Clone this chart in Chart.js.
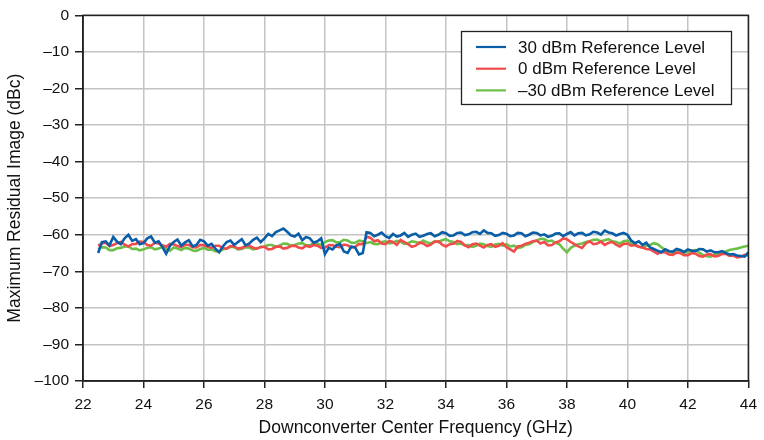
<!DOCTYPE html>
<html>
<head>
<meta charset="utf-8">
<script src="https://cdn.jsdelivr.net/npm/chart.js@4"></script>
<style>
html,body{margin:0;padding:0;background:#fff;}
</style>
</head>
<body>
<canvas id="chart" width="764" height="440"></canvas>
<script>
/* ====== data ====== */

// center frequency, GHz (one row per GHz)
const freqGHz = [
22.5,22.625,22.75,22.875,23,23.125,23.25,23.375,
23.5,23.625,23.75,23.875,24,24.125,24.25,24.375,
24.5,24.625,24.75,24.875,25,25.125,25.25,25.375,
25.5,25.625,25.75,25.875,26,26.125,26.25,26.375,
26.5,26.625,26.75,26.875,27,27.125,27.25,27.375,
27.5,27.625,27.75,27.875,28,28.125,28.25,28.375,
28.5,28.625,28.75,28.875,29,29.125,29.25,29.375,
29.5,29.625,29.75,29.875,30,30.125,30.25,30.375,
30.5,30.625,30.75,30.875,31,31.125,31.25,31.375,
31.5,31.625,31.75,31.875,32,32.125,32.25,32.375,
32.5,32.625,32.75,32.875,33,33.125,33.25,33.375,
33.5,33.625,33.75,33.875,34,34.125,34.25,34.375,
34.5,34.625,34.75,34.875,35,35.125,35.25,35.375,
35.5,35.625,35.75,35.875,36,36.125,36.25,36.375,
36.5,36.625,36.75,36.875,37,37.125,37.25,37.375,
37.5,37.625,37.75,37.875,38,38.125,38.25,38.375,
38.5,38.625,38.75,38.875,39,39.125,39.25,39.375,
39.5,39.625,39.75,39.875,40,40.125,40.25,40.375,
40.5,40.625,40.75,40.875,41,41.125,41.25,41.375,
41.5,41.625,41.75,41.875,42,42.125,42.25,42.375,
42.5,42.625,42.75,42.875,43,43.125,43.25,43.375,
43.5,43.625,43.75,43.875,44
];

// 30 dBm reference level
const ref30dBm = [
-65.0,-62.0,-61.8,-62.9,-60.6,-61.9,-62.6,-61.0,
-60.0,-61.7,-61.2,-62.6,-62.3,-61.0,-60.5,-62.2,
-61.8,-63.4,-65.2,-63.0,-62.0,-61.3,-63.0,-62.1,
-61.5,-63.2,-62.8,-61.4,-61.8,-63.0,-62.5,-63.8,
-64.8,-63.2,-62.0,-61.6,-62.8,-62.0,-61.2,-62.9,
-62.4,-61.4,-60.8,-62.0,-61.0,-59.8,-60.4,-59.3,
-58.8,-58.3,-59.2,-60.2,-60.5,-59.7,-61.5,-60.6,
-61.0,-62.2,-61.8,-61.0,-65.3,-63.6,-64.0,-62.9,
-62.5,-64.6,-65.0,-63.2,-63.5,-65.4,-65.0,-59.3,
-59.5,-60.4,-60.0,-59.4,-60.4,-60.9,-59.8,-60.5,
-60.2,-59.5,-60.6,-60.0,-59.7,-60.6,-60.3,-59.8,
-59.6,-60.4,-60.0,-59.3,-59.6,-60.3,-60.2,-59.5,
-59.4,-60.1,-59.9,-59.3,-59.2,-59.8,-58.8,-59.5,
-59.6,-60.3,-60.1,-59.5,-59.7,-60.4,-60.2,-59.5,
-59.6,-60.4,-60.0,-59.4,-59.5,-60.2,-59.9,-60.6,
-60.3,-59.7,-59.6,-60.4,-59.8,-59.3,-60.2,-59.6,
-59.5,-60.2,-59.9,-59.2,-59.4,-60.0,-58.9,-59.4,
-59.6,-60.2,-59.8,-59.5,-60.0,-61.6,-62.3,-61.8,
-62.8,-62.2,-63.5,-63.9,-64.4,-64.8,-64.0,-64.5,
-64.6,-63.9,-64.2,-64.7,-64.0,-64.4,-64.5,-63.9,
-64.0,-64.6,-64.3,-64.8,-64.8,-64.5,-65.0,-65.4,
-65.3,-65.7,-65.8,-66.0,-64.8
];

// 0 dBm reference level
const ref0dBm = [
-63.0,-62.4,-62.2,-63.1,-62.8,-62.3,-62.0,-62.7,
-63.2,-62.6,-62.5,-61.9,-62.0,-62.8,-63.0,-62.2,
-62.4,-62.9,-63.3,-62.5,-62.6,-63.1,-63.4,-62.7,
-62.8,-63.4,-63.5,-62.8,-62.9,-63.3,-63.6,-63.0,
-63.0,-63.7,-63.8,-63.1,-63.2,-63.8,-63.6,-63.1,
-63.0,-63.6,-63.8,-63.4,-63.3,-64.0,-63.9,-63.3,
-63.2,-63.8,-63.6,-63.1,-63.0,-63.5,-63.7,-63.0,
-63.3,-62.8,-63.0,-63.6,-63.5,-62.9,-62.8,-63.3,
-63.4,-62.7,-62.9,-63.5,-63.3,-62.5,-62.6,-60.6,
-60.8,-61.8,-61.5,-62.4,-62.6,-61.7,-62.0,-62.8,
-61.4,-62.0,-62.6,-63.3,-63.0,-62.1,-62.4,-63.1,
-62.7,-61.9,-61.8,-62.7,-63.2,-62.6,-62.5,-61.7,
-62.0,-62.9,-63.4,-62.6,-62.4,-63.0,-63.5,-62.8,
-62.6,-63.3,-63.0,-62.3,-63.4,-64.0,-64.6,-63.2,
-63.0,-62.5,-62.2,-61.8,-61.6,-62.4,-62.0,-62.9,
-62.8,-62.1,-61.8,-61.0,-61.2,-62.0,-62.6,-63.2,
-63.6,-62.4,-61.8,-62.6,-62.4,-61.9,-62.8,-62.2,
-62.0,-62.7,-63.2,-62.5,-62.4,-63.0,-62.8,-63.3,
-63.5,-63.9,-64.0,-64.6,-65.2,-64.7,-64.8,-65.4,
-65.5,-64.9,-65.0,-65.6,-65.6,-65.0,-65.2,-65.8,
-66.0,-65.4,-65.3,-65.9,-65.8,-65.3,-65.2,-65.8,
-65.7,-66.2,-66.0,-65.5,-65.6
];

// -30 dBm reference level
const refMinus30dBm = [
-64.0,-63.4,-63.5,-64.2,-64.2,-63.7,-63.6,-63.2,
-63.2,-63.9,-63.8,-64.3,-64.0,-63.6,-63.4,-64.0,
-63.8,-63.3,-64.0,-64.4,-63.5,-63.8,-64.2,-63.6,
-63.8,-64.3,-64.4,-63.9,-63.6,-64.1,-64.0,-64.5,
-64.6,-64.0,-63.8,-63.3,-63.4,-64.0,-63.9,-63.4,
-63.5,-64.0,-63.8,-63.3,-63.2,-62.8,-62.8,-63.3,
-63.0,-62.4,-62.5,-63.0,-62.8,-62.4,-62.3,-62.9,
-62.9,-62.3,-62.5,-62.8,-62.0,-61.6,-61.5,-62.1,
-62.0,-61.4,-61.6,-62.2,-62.2,-61.6,-61.8,-62.3,
-62.0,-62.5,-62.6,-62.0,-61.8,-62.4,-62.2,-61.7,
-61.9,-62.5,-62.3,-61.8,-62.0,-62.4,-61.6,-62.1,
-62.4,-61.8,-62.0,-61.5,-61.2,-61.8,-62.0,-62.6,
-62.4,-62.9,-62.8,-63.3,-63.0,-62.4,-62.6,-63.1,
-63.3,-62.7,-62.5,-63.0,-62.6,-63.2,-63.0,-63.6,
-63.4,-62.8,-62.6,-62.0,-61.6,-61.1,-61.2,-61.8,
-61.6,-62.2,-62.6,-63.8,-64.8,-63.6,-63.0,-62.6,
-62.4,-62.0,-61.8,-61.4,-61.3,-61.8,-61.5,-61.2,
-61.8,-62.0,-62.4,-61.8,-61.6,-62.2,-62.8,-63.2,
-63.5,-63.0,-62.8,-62.3,-62.6,-63.4,-64.2,-64.6,
-65.0,-64.5,-64.4,-64.9,-64.8,-64.3,-64.2,-64.9,
-65.6,-65.9,-66.0,-65.4,-65.2,-64.8,-64.6,-64.2,
-64.0,-63.8,-63.5,-63.2,-63.0
];

const seriesLabels = ["30 dBm Reference Level", "0 dBm Reference Level", "\u201330 dBm Reference Level"];
const seriesColors = ["#0a5ea8", "#f24b4b", "#6cbf47"];

const xTicks = [22,24,26,28,30,32,34,36,38,40,42,44];
const yTicks = [0,-10,-20,-30,-40,-50,-60,-70,-80,-90,-100];

/* ====== helpers ====== */

function toPoints(vals){
  return vals.map((v,i)=>({x:freqGHz[i], y:v}));
}

const FONT = "'Liberation Sans', Arial, sans-serif";

// box around the plot area
const frame = {
  id:"frame",
  afterDraw(chart){
    const a = chart.chartArea, ctx = chart.ctx;
    ctx.save();
    ctx.strokeStyle = "#222";
    ctx.lineWidth = 1.5;
    ctx.strokeRect(a.left, a.top, a.right-a.left, a.bottom-a.top);
    ctx.restore();
  }
};

// boxed legend inside the plot
const boxLegend = {
  id:"boxLegend",
  afterDraw(chart){
    const ctx = chart.ctx;
    ctx.save();
    ctx.fillStyle = "#fff";
    ctx.fillRect(461, 31, 270, 73);
    ctx.strokeStyle = "#222";
    ctx.lineWidth = 1.3;
    ctx.strokeRect(461.5, 31.5, 270, 73);
    ctx.font = "17px " + FONT;
    ctx.textBaseline = "middle";
    chart.data.datasets.forEach((ds,i)=>{
      const y = 47 + i*21.7;
      ctx.strokeStyle = ds.borderColor;
      ctx.lineWidth = 2.2;
      ctx.beginPath();
      ctx.moveTo(476, y);
      ctx.lineTo(506, y);
      ctx.stroke();
      ctx.fillStyle = "#111";
      ctx.fillText(ds.label, 518, y+1);
    });
    ctx.restore();
  }
};

/* ====== chart ====== */

const allSeries = [ref30dBm, ref0dBm, refMinus30dBm];

new Chart(document.getElementById("chart"),{
  type:"line",
  data:{
    datasets: allSeries.map((vals,i)=>({
      label: seriesLabels[i],
      data: toPoints(vals),
      borderColor: seriesColors[i],
      backgroundColor: seriesColors[i],
      borderWidth: 2.6,
      pointRadius: 0,
      tension: 0,
      fill: false
    }))
  },
  options:{
    responsive:false,
    animation:false,
    layout:{padding:{left:0, top:11, right:15, bottom:0}},
    plugins:{legend:{display:false}, tooltip:{enabled:false}},
    scales:{
      x:{
        type:"linear",
        min:22, max:44,
        afterBuildTicks(s){ s.ticks = xTicks.map(v=>({value:v})); },
        afterFit(s){ s.height = 59; },
        ticks:{color:"#111", padding:7, font:{family:FONT, size:15.5}, maxRotation:0},
        grid:{color:"#c4c4c4", lineWidth:1.5, tickColor:"#222", tickLength:7, tickWidth:1.5},
        border:{color:"#222", width:1.5},
        title:{display:true, text:"Downconverter Center Frequency (GHz)", color:"#111",
               font:{family:FONT, size:17.5}, padding:{top:0, bottom:1.5}}
      },
      y:{
        min:-100, max:0,
        afterBuildTicks(s){ s.ticks = yTicks.map(v=>({value:v})); },
        afterFit(s){ s.width = 83; },
        ticks:{color:"#111", padding:6, font:{family:FONT, size:15.5},
               callback:v => v===0 ? "0" : "\u2013" + Math.abs(v)},
        grid:{color:"#c4c4c4", lineWidth:1.5, tickColor:"#222", tickLength:8, tickWidth:1.5},
        border:{color:"#222", width:1.5},
        title:{display:true, text:"Maximum Residual Image (dBc)", color:"#111",
               font:{family:FONT, size:17.5}, padding:{top:5, bottom:0}}
      }
    }
  },
  plugins:[frame, boxLegend]
});
</script>
</body>
</html>
